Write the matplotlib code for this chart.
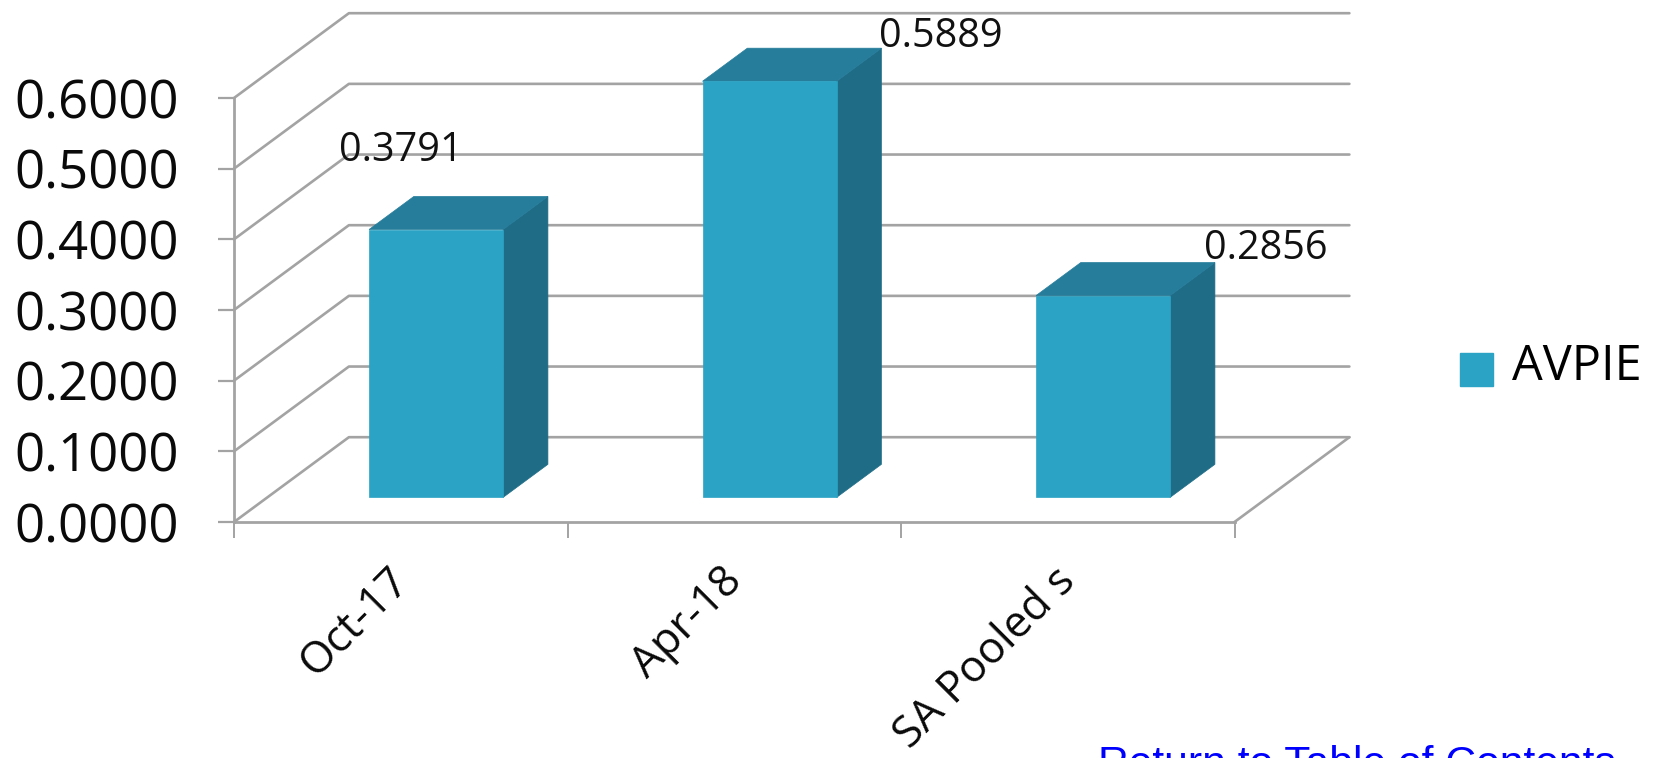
import matplotlib
matplotlib.use("Agg")
import matplotlib.pyplot as plt
from matplotlib.patches import Patch
from matplotlib.transforms import Affine2D

categories = ["Oct-17", "Apr-18", "SA Pooled s"]
avpie_values = [0.3791, 0.5889, 0.2856]
value_labels = ["0.3791", "0.5889", "0.2856"]
y_ticks = [0.0, 0.1, 0.2, 0.3, 0.4, 0.5, 0.6]
y_tick_labels = ["0.0000", "0.1000", "0.2000", "0.3000", "0.4000", "0.5000", "0.6000"]
series_name = "AVPIE"

W, H = 1653, 758
FONT = "Open Sans"
GRID = "#a3a3a3"
FRONT, TOP, SIDE = "#2aa3c4", "#267d9b", "#1f6c87"

# oblique projection of the chart's depth axis, in data units
DX, DY = 0.3445, 0.12
BAR_W = 0.402
D0, D1 = 0.29, 0.68
BAR_SHIFT = 0.006


def proj(x, y, d):
    return x + d * DX, y + d * DY


plt.rcParams["font.family"] = FONT
fig = plt.figure(figsize=(W / 100, H / 100), dpi=100, facecolor="white")
ax = fig.add_axes([234 / W, 1 - 522 / H, (1234.5 - 234) / W, (522 - 98) / H])
ax.set_xlim(0, 3)
ax.set_ylim(0, 0.6)
for s in ("top", "right"):
    ax.spines[s].set_visible(False)
for s in ("left", "bottom"):
    ax.spines[s].set_color(GRID)
    ax.spines[s].set_linewidth(2.0)

# walls
line_kw = dict(color=GRID, lw=1.9, clip_on=False, zorder=1, solid_capstyle="round")
for v in y_ticks:
    x0, y0 = proj(0, v, 0)
    x1, y1 = proj(0, v, 1)
    x2, y2 = proj(3, v, 1)
    ax.plot([x0, x1, x2], [y0, y1, y2], **line_kw)
xa, ya = proj(3, 0, 0)
xb, yb = proj(3, 0, 1)
ax.plot([xa, xb], [ya, yb], **line_kw)

# bars
for i, v in enumerate(avpie_values):
    c = i + 0.5 + BAR_SHIFT
    l, r = c - BAR_W / 2, c + BAR_W / 2
    corners_front = [proj(l, 0, D0), proj(r, 0, D0), proj(r, v, D0), proj(l, v, D0)]
    corners_top = [proj(l, v, D0), proj(r, v, D0), proj(r, v, D1), proj(l, v, D1)]
    corners_side = [proj(r, 0, D0), proj(r, 0, D1), proj(r, v, D1), proj(r, v, D0)]
    for pts, col in ((corners_side, SIDE), (corners_top, TOP), (corners_front, FRONT)):
        ax.fill(*zip(*pts), facecolor=col, edgecolor=col, lw=0.5, clip_on=False, zorder=3)

# value labels
label_offsets_px = [(0, 103), (207, 69), (198, 71)]
for i, (v, t) in enumerate(zip(avpie_values, value_labels)):
    ax.annotate(t, xy=(i + 0.5, v), xytext=label_offsets_px[i], textcoords="offset pixels",
                ha="center", va="center", fontsize=28.5, color="#111111",
                annotation_clip=False, zorder=5)

# axes ticks
ax.set_yticks(y_ticks)
ax.set_yticklabels(y_tick_labels, fontsize=38, color="#0a0a0a")
ax.tick_params(axis="y", length=11.5, width=1.6, color=GRID, pad=28)
ax.set_xticks(range(len(categories) + 1))
ax.set_xticklabels([])
ax.tick_params(axis="x", which="major", length=11.5, width=1.4, color=GRID)
ax.set_xticks([i + 0.5 for i in range(len(categories))], minor=True)
ax.set_xticklabels(categories, minor=True, rotation=45, ha="right", va="top",
                   rotation_mode="anchor", fontsize=31.5, color="#0a0a0a")
ax.tick_params(axis="x", which="minor", length=0, pad=27)
for lab in ax.get_xticklabels(minor=True):
    lab.set_transform(lab.get_transform() + Affine2D().translate(-14, 0))

# legend
leg = fig.legend(handles=[Patch(facecolor=FRONT, edgecolor=FRONT, label=series_name)],
                 loc="center left", bbox_to_anchor=(1460 / W, 1 - 367 / H), frameon=False,
                 fontsize=35, handlelength=0.68, handleheight=0.68, handletextpad=0.4,
                 borderpad=0, borderaxespad=0)
handle = leg.legend_handles[0]
handle.set_y(handle.get_y() - 5)

# page link cut by the lower edge
fig.text(1098 / W, 1 - 745 / H, "Return to Table of Contents", color="#0000ff",
         fontsize=30.7, family="Liberation Sans", ha="left", va="top")

fig.savefig("out.png", dpi=100, facecolor="white")
